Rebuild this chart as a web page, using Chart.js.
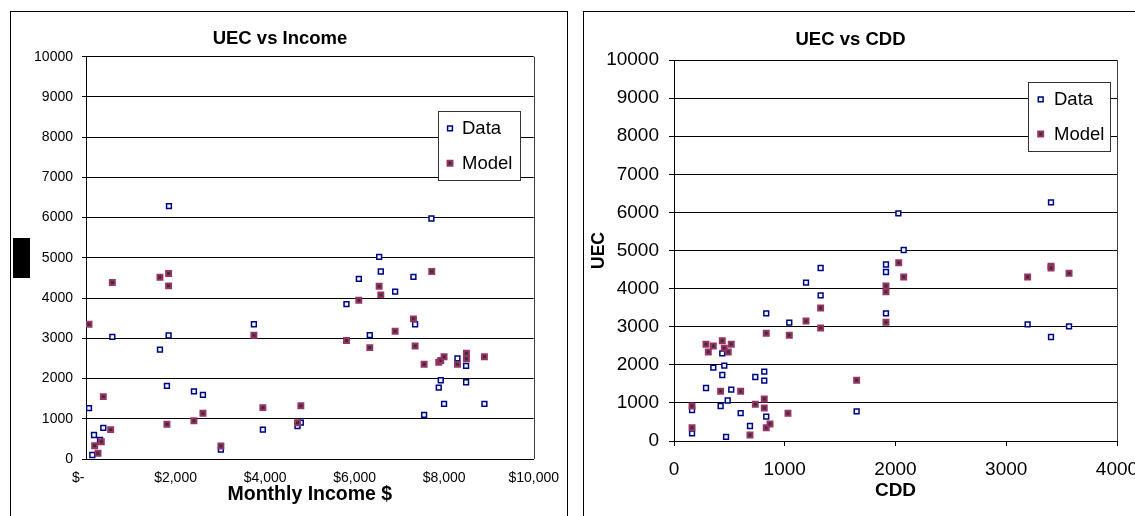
<!DOCTYPE html>
<html><head><meta charset="utf-8">
<script src="https://cdn.jsdelivr.net/npm/chart.js@4.4.1/dist/chart.umd.min.js"></script>
<style>
html,body{margin:0;padding:0;background:#fff;overflow:hidden;width:1135px;height:516px;}
.frame{position:absolute;border:1px solid #000;box-sizing:border-box;}
canvas{position:absolute;top:0;}
</style></head><body>
<div class="frame" style="left:10px;top:11px;width:558px;height:520px"></div>
<div class="frame" style="left:583px;top:11px;width:600px;height:520px"></div>
<div style="position:absolute;left:13px;top:238px;width:17px;height:40px;background:#000"></div>
<canvas id="c1" width="570" height="516" style="left:0"></canvas>
<canvas id="c2" width="600" height="516" style="left:570px"></canvas>
<script>
// ---- UEC vs Income ----
const incomeDataX = [67,179,141,387,313,588,1652,1845,1808,1853,2411,2612,3013,3750,3951,4725,4799,5818,6094,6339,6548,6585,6905,7314,7351,7552,7716,7879,7924,7998,8297,8490,8490,8899];
const incomeDataY = [1265,597,100,775,473,3035,2720,3070,1816,6286,1683,1592,232,3350,730,821,903,3848,4478,3077,5025,4660,4162,4527,3350,1095,5978,1774,1957,1368,2500,2313,1908,1368];
const incomeModelX = [67,588,387,551,193,268,342,1652,1845,1845,1808,2411,2612,3013,3750,3951,4725,4799,5818,6094,6339,6548,6585,6905,7314,7351,7552,7723,7879,7924,7998,8297,8498,8498,8899];
const incomeModelY = [3350,4387,1550,730,331,141,431,4519,4610,4303,862,953,1136,323,3077,1277,903,1322,2944,3947,2769,4295,4080,3176,3483,2811,2355,4660,2405,2446,2541,2355,2629,2490,2541];
const incomeTickLabels = ['$-    ','$2,000','$4,000','$6,000','$8,000','$10,000'];

// ---- UEC vs CDD ----
const cddDataX = [163,163,289,355,436,454,436,421,485,517,470,602,686,734,815,815,833,833,1041,1192,1324,1324,1649,1914,1914,1914,2026,2074,3193,3404,3404,3567];
const cddDataY = [201,814,1391,1925,1732,1977,2302,919,1063,1347,109,731,394,1680,1820,1584,3351,639,3105,4155,4541,3823,779,4632,4436,3351,5976,5013,3062,2730,6265,3010];
const cddModelX = [163,163,289,310,355,436,454,490,517,421,602,734,686,815,815,833,833,867,1029,1041,1192,1324,1324,1649,2029,2074,1914,1914,1914,3193,3404,3404,3567];
const cddModelY = [919,350,2537,2336,2493,2633,2437,2336,2537,1304,1304,962,157,1102,866,2826,350,446,727,2774,3150,3491,2966,1593,4680,4304,4068,3919,3115,4304,4585,4540,4401];

const seriesNames = ['Data','Model'];
const uecTicks = [0,1000,2000,3000,4000,5000,6000,7000,8000,9000,10000];

function pts(xs, ys){ return xs.map((x,i)=>({x:x, y:ys[i]})); }

Chart.defaults.font.family = "'Liberation Sans', Arial, sans-serif";
Chart.defaults.color = '#000';

const dataStyle = {pointStyle:'rect', pointRadius:3.4, pointBorderWidth:1.5, borderColor:'#000080', backgroundColor:'#e6ffff', pointBorderColor:'#000080', pointBackgroundColor:'#e6ffff', showLine:false, order:1};
const modelStyle = {pointStyle:'rect', pointRadius:3.5, pointBorderWidth:2, borderColor:'#993366', backgroundColor:'#333333', pointBorderColor:'#993366', pointBackgroundColor:'#333333', showLine:false, order:0};

const frameLegend = {
  id:'frameLegend',
  afterDraw(chart, args, o){
    const ctx = chart.ctx, a = chart.chartArea;
    ctx.save();
    ctx.strokeStyle = '#404040'; ctx.lineWidth = 1;
    const rx = Math.round(a.right) + 0.5;
    ctx.beginPath(); ctx.moveTo(rx, a.top); ctx.lineTo(rx, a.bottom); ctx.stroke();
    // legend box
    ctx.fillStyle = '#fff'; ctx.fillRect(o.x, o.y, o.w, o.h);
    ctx.strokeStyle = '#333'; ctx.strokeRect(o.x + 0.5, o.y + 0.5, o.w, o.h);
    ctx.font = o.fontSize + "px 'Liberation Sans', Arial, sans-serif";
    ctx.textBaseline = 'middle'; ctx.textAlign = 'left';
    chart.data.datasets.forEach((ds, i) => {
      const cy = o.y + o.rows[i];
      const cx = o.x + o.markerX;
      const half = ds.pointRadius * Math.SQRT1_2;
      ctx.fillStyle = ds.pointBackgroundColor; ctx.strokeStyle = ds.pointBorderColor; ctx.lineWidth = ds.pointBorderWidth;
      ctx.beginPath(); ctx.rect(cx - half, cy - half, 2*half, 2*half); ctx.fill(); ctx.stroke();
      ctx.fillStyle = '#000';
      ctx.fillText(ds.label, o.x + o.textX, cy + 1);
    });
    ctx.restore();
  }
};

function yAxis(fontSize, tickLen, pad, width, title){
  return {
    type:'linear', min:0, max:10000,
    afterBuildTicks: s => { s.ticks = uecTicks.map(v => ({value:v})); },
    ticks:{ font:{size:fontSize}, color:'#000', padding:pad, callback: v => String(v) },
    grid:{ color:'#000', lineWidth:1, drawTicks:true, tickLength:tickLen, tickColor:'#000' },
    border:{ color:'#000', width:1 },
    title: title,
    afterFit: s => { s.width = width; }
  };
}

new Chart(document.getElementById('c1'), {
  type:'scatter',
  data:{ datasets:[
    Object.assign({label:seriesNames[0], data:pts(incomeDataX, incomeDataY)}, dataStyle),
    Object.assign({label:seriesNames[1], data:pts(incomeModelX, incomeModelY)}, modelStyle)
  ]},
  options:{
    responsive:false, animation:false, devicePixelRatio:1,
    layout:{ padding:{left:26, right:36, top:0, bottom:0} },
    plugins:{
      legend:{display:false}, tooltip:{enabled:false},
      title:{ display:true, text:'UEC vs Income', color:'#000', font:{size:18.5, weight:'bold'}, padding:{top:27.4, bottom:7.1} },
      frameLegend:{ x:438, y:111, w:82, h:69, rows:[17.3, 52.3], markerX:12, textX:24, fontSize:18.5 }
    },
    scales:{
      x:{
        type:'linear', position:'bottom', min:0, max:10000,
        ticks:{ stepSize:2000, font:{size:14}, color:'#000', padding:11, maxRotation:0, autoSkip:false,
          callback: v => incomeTickLabels[Math.round(v/2000)] },
        grid:{ drawOnChartArea:false, drawTicks:false },
        border:{ color:'#000', width:1 },
        title:{ display:true, text:'Monthly Income $', color:'#000', font:{size:19.5, weight:'bold'}, padding:{top:0, bottom:9.8} },
        afterFit: s => { s.height = 57; }
      },
      y: yAxis(14, 4, 9, 60, {display:false})
    }
  },
  plugins:[frameLegend]
});

new Chart(document.getElementById('c2'), {
  type:'scatter',
  data:{ datasets:[
    Object.assign({label:seriesNames[0], data:pts(cddDataX, cddDataY)}, dataStyle),
    Object.assign({label:seriesNames[1], data:pts(cddModelX, cddModelY)}, modelStyle)
  ]},
  options:{
    responsive:false, animation:false, devicePixelRatio:1,
    layout:{ padding:{left:14, right:53, top:0, bottom:0} },
    plugins:{
      legend:{display:false}, tooltip:{enabled:false},
      title:{ display:true, text:'UEC vs CDD', color:'#000', font:{size:18.5, weight:'bold'}, padding:{top:28.9, bottom:8.9} },
      frameLegend:{ x:458, y:82, w:82, h:69, rows:[17.3, 52], markerX:12.7, textX:26, fontSize:18.5 }
    },
    scales:{
      x:{
        type:'linear', position:'bottom', min:0, max:4000,
        ticks:{ stepSize:1000, font:{size:19}, color:'#000', padding:12, maxRotation:0, autoSkip:false, callback: v => String(v) },
        grid:{ drawOnChartArea:false, drawTicks:true, tickLength:5, tickColor:'#000' },
        border:{ color:'#000', width:1 },
        title:{ display:true, text:'CDD', color:'#000', font:{size:19, weight:'bold'}, padding:{top:0, bottom:13.6} },
        afterFit: s => { s.height = 75; }
      },
      y: yAxis(19, 5, 10, 90, { display:true, text:'UEC', color:'#000', font:{size:17.5, weight:'bold'}, padding:{top:4.5, bottom:0} })
    }
  },
  plugins:[frameLegend]
});
</script>
</body></html>
